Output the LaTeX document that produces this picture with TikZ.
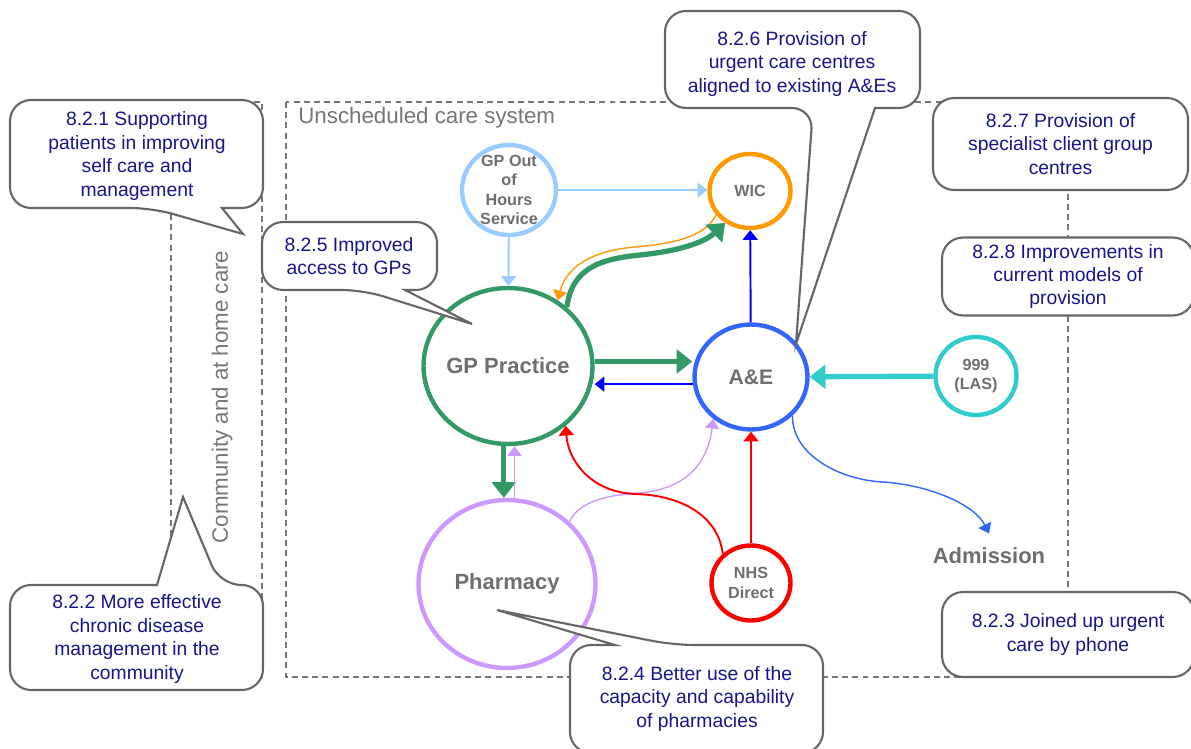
\documentclass[tikz,border=0pt]{standalone}
\usepackage{fontspec}
\setmainfont{Liberation Sans}
\usetikzlibrary{arrows.meta,shapes.geometric,calc}

\definecolor{oohblue}{HTML}{99CCFF}
\definecolor{wicorange}{HTML}{FF9900}
\definecolor{gpgreen}{HTML}{339966}
\definecolor{aeblue}{HTML}{3366FF}
\definecolor{purelink}{HTML}{0000FF}
\definecolor{lasteal}{HTML}{33CCCC}
\definecolor{pharmlav}{HTML}{CC99FF}
\definecolor{nhsred}{HTML}{FF0000}
\definecolor{labelgray}{HTML}{6E6E6E}
\definecolor{framegray}{HTML}{767676}
\definecolor{outlinegray}{HTML}{666666}
\definecolor{notenavy}{RGB}{22,22,140}

\begin{document}
\begin{tikzpicture}[x=0.02cm,y=-0.02cm,
  hub/.style={ellipse, draw, line width=2.5pt, fill=white, inner sep=0pt},
  hubtext/.style={text=labelgray, font=\bfseries\fontsize{9.2}{11}\selectfont, align=center},
  bigtext/.style={text=labelgray, font=\bfseries\fontsize{12.5}{15}\selectfont, align=center},
  thinlink/.style={line width=1.1pt, -{Triangle[length=5.5pt,width=8.5pt]}},
  finelink/.style={line width=0.8pt, -{Triangle[length=5.5pt,width=8pt]}},
  heavylink/.style={line width=3pt, -{Triangle[length=9pt,width=13.5pt]}},
  frame/.style={draw=framegray, line width=0.9pt, dash pattern=on 3.4pt off 2.4pt},
  framelabel/.style={text=framegray, font=\fontsize{12.7}{15}\selectfont, inner sep=0pt},
  callout/.style={draw=outlinegray, line width=1.2pt, fill=white},
  note/.style={text=notenavy, align=center, font=\fontsize{11}{13.3}\selectfont},
  notebox/.style={note, draw=outlinegray, line width=1.2pt, fill=white, rounded corners=12pt},
]
\useasboundingbox (0,0) rectangle (1191,749);

% system boundaries
\draw[frame] (171,102) rectangle (262,677);
\draw[frame] (286,102) rectangle (1068,677);
\node[framelabel, rotate=90] (community) at (222,397) {Community and at home care};
\node[framelabel, anchor=west] (system) at (298,118) {Unscheduled care system};

% services
\node[hub, draw=oohblue, minimum width=1.88cm, minimum height=1.80cm,
      label={[hubtext]center:GP Out\\of\\Hours\\Service}] (ooh) at (509,190) {};
\node[hub, draw=wicorange, minimum width=1.62cm, minimum height=1.48cm,
      label={[hubtext]center:WIC}] (wic) at (750,191) {};
\node[hub, draw=gpgreen, minimum width=3.38cm, minimum height=3.12cm,
      label={[bigtext]center:GP Practice}] (gp) at (508,366) {};
\node[hub, draw=aeblue, minimum width=2.26cm, minimum height=2.10cm,
      label={[bigtext, font=\bfseries\fontsize{12}{14}\selectfont]center:A\&E}] (aande) at (751,377) {};
\node[hub, draw=lasteal, minimum width=1.62cm, minimum height=1.56cm,
      label={[hubtext]center:999\\(LAS)}] (las) at (976,376) {};
\node[hub, draw=pharmlav, minimum width=3.54cm, minimum height=3.36cm,
      label={[bigtext]center:Pharmacy}] (pharm) at (507,584) {};
\node[hub, draw=nhsred, minimum width=1.58cm, minimum height=1.50cm,
      label={[hubtext]center:NHS\\Direct}] (nhs) at (751,583) {};
\node[bigtext, inner xsep=0pt, inner ysep=8pt] (adm) at (989,556) {Admission};

% patient flows
\draw[thinlink, oohblue] (ooh.east) -- (ooh.east -| wic.west);
\draw[thinlink, oohblue] (ooh) -- (gp);
\draw[finelink, wicorange] (wic.215) .. controls (705,238) and (670,244) .. (635,247)
  .. controls (600,250) and (568,262) .. (gp.53);
\draw[heavylink, gpgreen] (gp.45) .. controls (572,268) and (600,259) .. (640,255)
  .. controls (680,251) and (705,242) .. (wic.232);
\draw[thinlink, purelink] (aande) -- (wic);
\draw[heavylink, gpgreen] (gp.3) -- (gp.3 -| aande.west);
\draw[thinlink, purelink] (aande.187) -- (aande.187 -| gp.east);
\draw[heavylink, lasteal] (las) -- (aande);
\draw[finelink, aeblue] (aande.-43) .. controls (792,455) and (840,480) .. (883,482)
  .. controls (930,485) and (975,505) .. (adm.north);
\draw[heavylink, gpgreen] (gp.-93) -- (gp.-93 |- pharm.north);
\draw[finelink, pharmlav] (pharm.85) -- (pharm.85 |- gp.south);
\draw[finelink, pharmlav] (pharm.45) .. controls (580,500) and (610,495) .. (640,493)
  .. controls (690,488) and (708,460) .. (aande.228);
\draw[thinlink, nhsred] (nhs.134) .. controls (718,515) and (680,495) .. (635,494)
  .. controls (590,492) and (568,460) .. (gp.-46);
\draw[thinlink, nhsred] (nhs) -- (aande);

% policy callouts
\coordinate (t821) at (243,234);
\coordinate (t822) at (183,497);
\coordinate (t824) at (497,610);
\coordinate (t825) at (472,324);
\coordinate (t826) at (796,344);

\draw[callout] (222,208) [rounded corners=12pt] -- (263,208) -- (263,100) -- (10,100)
  -- (10,208) -- (152,208) [sharp corners] -- (t821) -- cycle;
\node[note] (n821) at (137,156) {8.2.1 Supporting\\patients in improving\\self care and\\management};

\draw[callout] (157,585) [rounded corners=12pt] -- (10,585) -- (10,690) -- (263,690)
  -- (263,585) -- (220,585) [sharp corners] -- (t822) -- cycle;
\node[note] (n822) at (137,639) {8.2.2 More effective\\chronic disease\\management in the\\community};

\draw[callout] (615,645) [rounded corners=12pt] -- (570,645) -- (570,753) -- (823,753)
  -- (823,645) -- (673,645) [sharp corners] -- (t824) -- cycle;
\node[note] (n824) at (697,699) {8.2.4 Better use of the\\capacity and capability\\of pharmacies};

\draw[callout] (405,290) [rounded corners=12pt] -- (437,290) -- (437,222) -- (262,222)
  -- (262,290) -- (363,290) [sharp corners] -- (t825) -- cycle;
\node[note] (n825) at (349,256) {8.2.5 Improved\\access to GPs};

\draw[callout] (875,108) [rounded corners=12pt] -- (920,108) -- (920,11) -- (665,11)
  -- (665,108) -- (813,108) [sharp corners] -- (t826) -- cycle;
\node[note] (n826) at (792,64) {8.2.6 Provision of\\urgent care centres\\aligned to existing A\&Es};

\node[notebox, minimum width=5.10cm, minimum height=1.84cm] (n827) at (1060.5,144)
  {8.2.7 Provision of\\specialist client group\\centres};
\node[notebox, minimum width=5.04cm, minimum height=1.56cm] (n828) at (1068,276.5)
  {8.2.8 Improvements in\\current models of\\provision};
\node[notebox, minimum width=5.04cm, minimum height=1.70cm] (n823) at (1068,634.5)
  {8.2.3 Joined up urgent\\care by phone};
\end{tikzpicture}
\end{document}
